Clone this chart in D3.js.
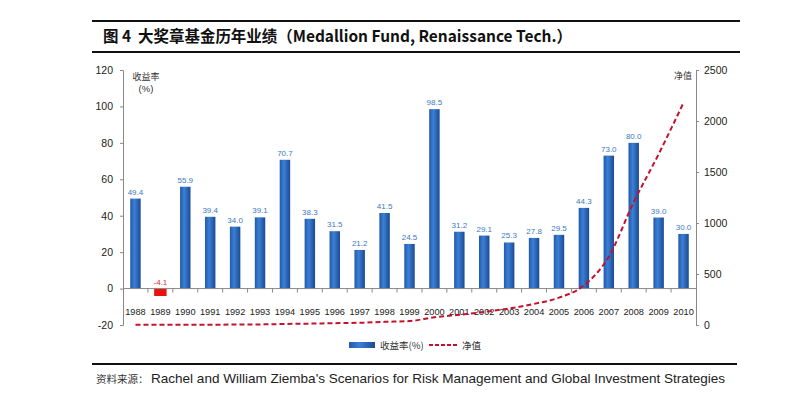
<!DOCTYPE html>
<html><head><meta charset="utf-8">
<script src="https://cdn.jsdelivr.net/npm/d3@7/dist/d3.min.js"></script>
<style>body{margin:0;background:#fff}svg{display:block}</style>
</head><body><svg id="c" width="800" height="396"></svg>
<script>
const years = ["1988","1989","1990","1991","1992","1993","1994","1995","1996","1997","1998","1999","2000","2001","2002","2003","2004","2005","2006","2007","2008","2009","2010"];
const returns = [49.4,-4.1,55.9,39.4,34.0,39.1,70.7,38.3,31.5,21.2,41.5,24.5,98.5,31.2,29.1,25.3,27.8,29.5,44.3,73.0,80.0,39.0,30.0];
const netValue = [1.5,1.4,2.2,3.1,4.2,5.8,9.9,13.7,18,21.8,30.9,38.5,76.4,100,129,162,207,268,387,670,1205,1675,2180];
const leftTicks = [-20,0,20,40,60,80,100,120];
const rightTicks = [0,500,1000,1500,2000,2500];

const svg = d3.select("#c");
const L = 123, R = 696, T = 70, B = 325;
const x = d3.scaleBand().domain(years).range([L, R]).paddingInner(0.58).paddingOuter(0.29);
const xc = d => x(d) + x.bandwidth()/2;
const step = x.step();
const y = d3.scaleLinear().domain([-20,120]).range([B, T]);
const y2 = d3.scaleLinear().domain([0,2500]).range([B, T]);
const fmt = d => String(d);

const defs = svg.append("defs");
const g = defs.append("linearGradient").attr("id","bg").attr("x1","0").attr("x2","1").attr("y1","0").attr("y2","0");
g.append("stop").attr("offset","0%").attr("stop-color","#2458a8");
g.append("stop").attr("offset","40%").attr("stop-color","#3a80d6");
g.append("stop").attr("offset","100%").attr("stop-color","#1c4a92");

// title rules
svg.append("line").attr("x1",92).attr("x2",740).attr("y1",21).attr("y2",21).attr("stroke","#111").attr("stroke-width",2);
svg.append("line").attr("x1",92).attr("x2",740).attr("y1",52).attr("y2",52).attr("stroke","#111").attr("stroke-width",2);
svg.append("text").attr("x",103).attr("y",42).attr("font-family","'Noto Sans CJK SC', Arial, sans-serif")
  .attr("font-weight","bold").attr("font-size",16).attr("fill","#111")
  .attr("textLength",469).attr("lengthAdjust","spacingAndGlyphs")
  .text("图\u00A04\u00A0\u00A0大奖章基金历年业绩（Medallion Fund, Renaissance Tech.）");

// left axis
const la = svg.append("g").attr("transform",`translate(${L},0)`)
  .call(d3.axisLeft(y).tickValues(leftTicks).tickFormat(fmt).tickSize(3).tickPadding(7));
la.select(".domain").attr("stroke","#888");
la.selectAll(".tick line").attr("stroke","#888");
la.selectAll("text").attr("font-family","'Liberation Sans', Arial, sans-serif").attr("font-size",10.5).attr("fill","#222");

// right axis
const ra = svg.append("g").attr("transform",`translate(${R},0)`)
  .call(d3.axisRight(y2).tickValues(rightTicks).tickFormat(fmt).tickSize(3).tickPadding(5));
ra.select(".domain").attr("stroke","#888");
ra.selectAll(".tick line").attr("stroke","#888");
ra.selectAll("text").attr("font-family","'Liberation Sans', Arial, sans-serif").attr("font-size",10.5).attr("fill","#222");

// bars
svg.append("g").selectAll("rect").data(years).join("rect")
  .attr("x",(d,i)=> returns[i] < 0 ? x(d)-1 : x(d))
  .attr("width",(d,i)=> returns[i] < 0 ? x.bandwidth()+2 : x.bandwidth())
  .attr("y",(d,i)=> y(Math.max(0,returns[i])))
  .attr("height",(d,i)=> Math.abs(y(returns[i]) - y(0)))
  .attr("fill",(d,i)=> returns[i] < 0 ? "#e8120f" : "url(#bg)");

// zero line and category ticks
svg.append("line").attr("x1",L).attr("x2",R).attr("y1",y(0)).attr("y2",y(0)).attr("stroke","#888");
svg.append("g").selectAll("line").data(years.slice(1)).join("line")
  .attr("x1",d=>x(d)-(step-x.bandwidth())/2).attr("x2",d=>x(d)-(step-x.bandwidth())/2)
  .attr("y1",y(0)).attr("y2",y(0)+4).attr("stroke","#888");

// year labels
svg.append("g").selectAll("text").data(years).join("text")
  .attr("x",d=>xc(d)).attr("y",315).attr("text-anchor","middle")
  .attr("font-family","'Liberation Sans', Arial, sans-serif").attr("font-size",9.2).attr("fill","#222")
  .text(d=>d);

// value labels
svg.append("g").selectAll("text").data(years).join("text")
  .attr("x",d=>xc(d)).attr("y",(d,i)=> returns[i] < 0 ? y(0)-4 : y(returns[i])-4)
  .attr("text-anchor","middle")
  .attr("font-family","'Liberation Sans', Arial, sans-serif").attr("font-size",8).attr("fill",(d,i)=> returns[i] < 0 ? "#e0302a" : "#3b78c4")
  .text((d,i)=> returns[i].toFixed(1));

// net value line
const line = d3.line().x((d,i)=>xc(years[i])).y(d=>y2(d)).curve(d3.curveMonotoneX);
svg.append("path").datum(netValue).attr("d",line).attr("fill","none")
  .attr("stroke","#c4122e").attr("stroke-width",2).attr("stroke-dasharray","5,3");

// axis titles
const cjk = "'Noto Sans CJK SC', sans-serif";
svg.append("text").attr("x",146).attr("y",80).attr("text-anchor","middle").attr("font-family",cjk).attr("font-size",9).attr("fill","#333").text("收益率");
svg.append("text").attr("x",146).attr("y",92).attr("text-anchor","middle").attr("font-family","'Liberation Sans', Arial, sans-serif").attr("font-size",9.5).attr("fill","#333").text("(%)");
svg.append("text").attr("x",683).attr("y",79).attr("text-anchor","middle").attr("font-family",cjk).attr("font-size",9).attr("fill","#333").text("净值");

// legend
svg.append("rect").attr("x",349).attr("y",342).attr("width",26).attr("height",6).attr("fill","url(#bg)");
svg.append("text").attr("x",380).attr("y",349).attr("font-family",cjk).attr("font-size",9.5).attr("fill","#333").text("收益率(%)");
svg.append("line").attr("x1",429).attr("x2",457).attr("y1",345).attr("y2",345).attr("stroke","#c4122e").attr("stroke-width",2).attr("stroke-dasharray","4,2");
svg.append("text").attr("x",462).attr("y",349).attr("font-family",cjk).attr("font-size",9.5).attr("fill","#333").text("净值");

// source
svg.append("line").attr("x1",92).attr("x2",737).attr("y1",364).attr("y2",364).attr("stroke","#111").attr("stroke-width",2);
svg.append("text").attr("x",96).attr("y",383).attr("font-family",cjk).attr("font-size",10.5).attr("fill","#333").text("资料来源：");
svg.append("text").attr("x",151).attr("y",383).attr("font-family","'Liberation Sans', Arial, sans-serif").attr("font-size",13).attr("fill","#222")
  .attr("textLength",574).attr("lengthAdjust","spacingAndGlyphs")
  .text("Rachel and William Ziemba's Scenarios for Risk Management and Global Investment Strategies");
</script></body></html>
